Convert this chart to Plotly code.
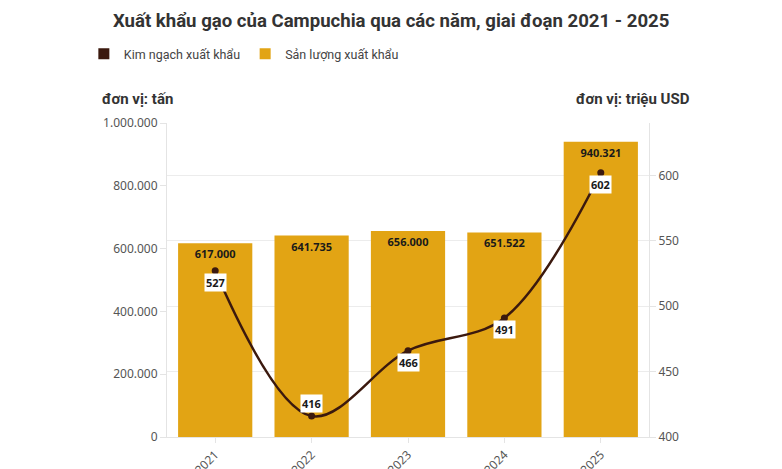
import plotly.graph_objects as go

years = ["2021", "2022", "2023", "2024", "2025"]
volume_tons = [617000, 641735, 656000, 651522, 940321]
value_musd = [527, 416, 466, 491, 602]
label_shift = [-12, 13, -12, -12, -12]

BAR_COLOR = "#E2A414"
LINE_COLOR = "#3B190E"
FONT = "Roboto"

def fmt(v):
    return f"{v:,}".replace(",", ".")

fig = go.Figure()

fig.add_trace(go.Bar(
    x=years, y=volume_tons, yaxis="y",
    marker=dict(color=BAR_COLOR, line=dict(width=0)),
    text=[fmt(v) for v in volume_tons],
    textposition="inside", insidetextanchor="end",
    textfont=dict(family="Noto Sans", size=11, color="#1a1a1a", weight="bold"),
    textangle=0,
    showlegend=False, cliponaxis=False,
))

fig.add_trace(go.Scatter(
    x=years, y=value_musd, yaxis="y2",
    mode="lines+markers",
    line=dict(color=LINE_COLOR, width=2.5, shape="spline", smoothing=1.0),
    marker=dict(color=LINE_COLOR, size=7),
    showlegend=False,
))

# legend-only entries
fig.add_trace(go.Scatter(x=[None], y=[None], mode="markers", name="Kim ngạch xuất khẩu",
                         marker=dict(symbol="square", size=11, color=LINE_COLOR)))
fig.add_trace(go.Scatter(x=[None], y=[None], mode="markers", name="Sản lượng xuất khẩu",
                         marker=dict(symbol="square", size=11, color=BAR_COLOR)))

annotations = []
for i, (v, s) in enumerate(zip(value_musd, label_shift)):
    annotations.append(dict(x=i, y=v, xref="x", yref="y2", text=f"<b>{v}</b>", showarrow=False,
                            yshift=s, bgcolor="white", borderpad=1,
                            font=dict(family="Noto Sans", size=11, color="#1a1a1a")))

annotations.append(dict(xref="paper", yref="paper", x=-0.139, y=1.075, xanchor="left", yanchor="middle",
                        text="<b>đơn vị: tấn</b>", showarrow=False,
                        font=dict(family=FONT, size=15, color="#333")))
annotations.append(dict(xref="paper", yref="paper", x=1.089, y=1.075, xanchor="right", yanchor="middle",
                        text="<b>đơn vị: triệu USD</b>", showarrow=False,
                        font=dict(family=FONT, size=15, color="#333")))

# The page places the figure 8px from the top-left corner; margins compensate.
fig.update_layout(
    width=782, height=469,
    template="none",
    paper_bgcolor="white", plot_bgcolor="white",
    separators=",.",
    margin=dict(l=159, r=141, t=115, b=40),
    annotations=annotations,
    title=dict(text="<b>Xuất khẩu gạo của Campuchia qua các năm, giai đoạn 2021 - 2025</b>",
               x=0.49, xanchor="center", y=1 - 12 / 469, yanchor="middle", xref="container", yref="container",
               font=dict(family=FONT, size=18.6, color="#333")),
    legend=dict(orientation="h", xref="container", yref="container", x=0.097, y=1 - 46 / 469,
                xanchor="left", yanchor="middle", font=dict(family=FONT, size=12.5, color="#444"),
                itemwidth=30, tracegroupgap=0),
    bargap=0.23,
    xaxis=dict(type="category", range=[-0.5, 4.5], tickangle=-45, automargin=False,
               showline=True, linecolor="#e4e4e4", linewidth=1, ticks="outside", ticklen=5,
               tickcolor="#e4e4e4", showgrid=False, zeroline=False,
               tickfont=dict(family="Noto Sans", size=12, color="#555")),
    yaxis=dict(range=[0, 1000000], tickvals=[0, 200000, 400000, 600000, 800000, 1000000],
               tickformat=",d", showgrid=False, zeroline=False, automargin=False,
               showline=True, linecolor="#e4e4e4", ticks="outside", ticklen=6, tickcolor="#e4e4e4",
               tickfont=dict(family="Noto Sans", size=12, color="#555")),
    yaxis2=dict(range=[400, 640], tickvals=[400, 450, 500, 550, 600], overlaying="y", side="right",
                showgrid=True, gridcolor="#ececec", gridwidth=1, zeroline=False, automargin=False,
                showline=True, linecolor="#e4e4e4", ticks="outside", ticklen=6, tickcolor="#e4e4e4",
                tickfont=dict(family="Noto Sans", size=12, color="#555")),
)

fig.write_html("out.html")
